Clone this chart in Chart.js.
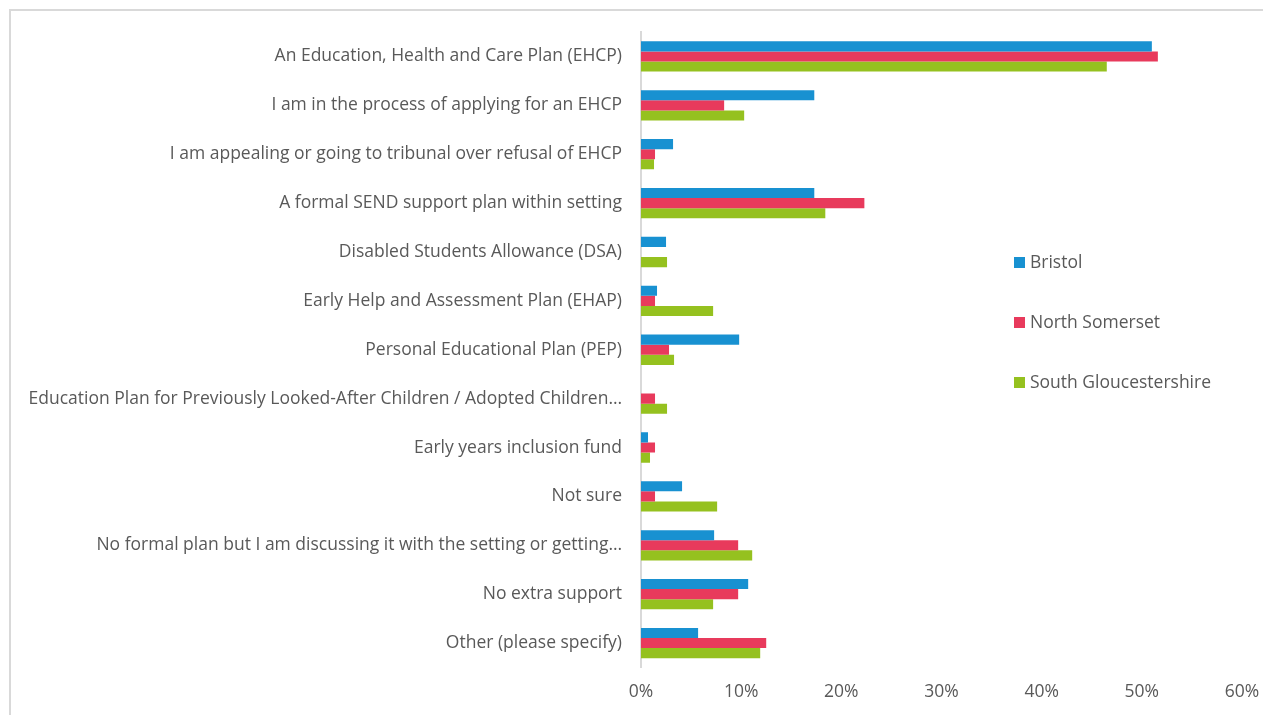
<!DOCTYPE html>
<html>
<head>
<meta charset="utf-8">
<script src="https://cdn.jsdelivr.net/npm/chart.js@4/dist/chart.umd.min.js"></script>
<style>
  html, body { margin: 0; padding: 0; background: #fff; overflow: hidden; }
  #wrap { position: relative; width: 1263px; height: 715px; }
  #frame {
    position: absolute; left: 9px; top: 9px; width: 1270px; height: 720px;
    border-left: 2px solid #d9d9d9; border-top: 2px solid #d9d9d9;
  }
  #legend {
    position: absolute; left: 1014px; top: 249px;
    font-family: "Open Sans", sans-serif; font-size: 17.5px; color: #595959;
  }
  #legend div { height: 60px; line-height: 24px; white-space: nowrap; }
  #legend span.box {
    display: inline-block; width: 11px; height: 11px; margin-right: 5px; vertical-align: 0px;
  }
</style>
</head>
<body>
<div id="wrap">
  <div id="frame"></div>
  <canvas id="chart" width="1263" height="715"></canvas>
  <div id="legend"></div>
</div>
<script>
const categories = [
  'An Education, Health and Care Plan (EHCP)',
  'I am in the process of applying for an EHCP',
  'I am appealing or going to tribunal over refusal of EHCP',
  'A formal SEND support plan within setting',
  'Disabled Students Allowance (DSA)',
  'Early Help and Assessment Plan (EHAP)',
  'Personal Educational Plan (PEP)',
  'Education Plan for Previously Looked-After Children / Adopted Children…',
  'Early years inclusion fund',
  'Not sure',
  'No formal plan but I am discussing it with the setting or getting…',
  'No extra support',
  'Other (please specify)'
];

const seriesNames = ['Bristol', 'North Somerset', 'South Gloucestershire'];
const seriesColors = ['#1891d1', '#e83a5c', '#95c11f'];

// percentages per category
const bristol = [51.0, 17.3, 3.2, 17.3, 2.5, 1.6, 9.8, 0, 0.7, 4.1, 7.3, 10.7, 5.7];
const northSomerset = [51.6, 8.3, 1.4, 22.3, 0, 1.4, 2.8, 1.4, 1.4, 1.4, 9.7, 9.7, 12.5];
const southGlos = [46.5, 10.3, 1.3, 18.4, 2.6, 7.2, 3.3, 2.6, 0.9, 7.6, 11.1, 7.2, 11.9];

const xTicks = [0, 10, 20, 30, 40, 50, 60];

const seriesData = [bristol, northSomerset, southGlos];

const font = { family: '"Open Sans", sans-serif', size: 17.5 };

new Chart(document.getElementById('chart'), {
  type: 'bar',
  data: {
    labels: categories,
    datasets: seriesNames.map((name, i) => ({
      label: name,
      data: seriesData[i],
      backgroundColor: seriesColors[i],
      borderWidth: 0,
      barPercentage: 1,
      categoryPercentage: 0.62
    }))
  },
  options: {
    indexAxis: 'y',
    responsive: false,
    animation: false,
    layout: { padding: { top: 32, right: 0, left: 0, bottom: 0 } },
    plugins: { legend: { display: false }, tooltip: { enabled: false } },
    scales: {
      x: {
        min: xTicks[0],
        max: xTicks[xTicks.length - 1],
        afterBuildTicks: axis => { axis.ticks = xTicks.map(v => ({ value: v })); },
        afterFit: axis => {
          axis.height = 47.5;
          axis.paddingLeft = 0;
          axis.paddingRight = 21;
        },
        grid: { display: false, drawTicks: false },
        border: { display: false },
        ticks: { color: '#595959', font, padding: 14, callback: v => v + '%' }
      },
      y: {
        afterFit: axis => { axis.width = 641; },
        grid: { display: false, drawTicks: false },
        border: { display: true, color: '#d9d9d9', width: 2 },
        ticks: { color: '#595959', font, padding: 19, autoSkip: false }
      }
    }
  }
});

const legend = document.getElementById('legend');
seriesNames.forEach((name, i) => {
  const row = document.createElement('div');
  row.innerHTML = '<span class="box" style="background:' + seriesColors[i] + '"></span>' + name;
  legend.appendChild(row);
});
</script>
</body>
</html>
